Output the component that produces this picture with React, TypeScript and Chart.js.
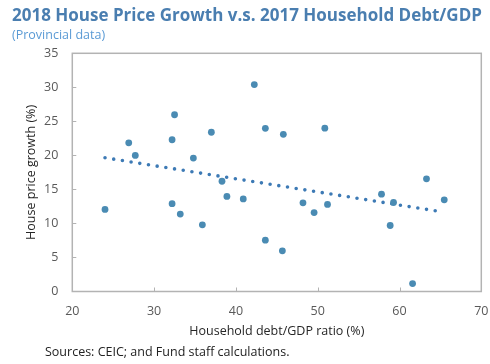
import React, { useEffect, useRef } from "react";
import { Chart, registerables } from "chart.js";

Chart.register(...registerables);

const debtRatio = [24.0, 26.9, 27.7, 32.5, 32.2, 32.2, 33.2, 34.8, 37.0, 35.9, 38.3, 38.9, 40.9, 42.25, 43.6, 43.6, 45.8, 50.87, 45.68, 48.2, 49.56, 51.2, 57.8, 59.27, 58.86, 63.3, 65.47, 61.6];
const priceGrowth = [12.06, 21.85, 20.0, 25.97, 22.3, 12.9, 11.37, 19.6, 23.4, 9.8, 16.2, 13.97, 13.6, 30.4, 23.97, 7.54, 23.1, 24.0, 5.97, 13.03, 11.6, 12.8, 14.3, 13.08, 9.7, 16.56, 13.47, 1.17];
const trendX = [24.0, 64.9];
const trendY = [19.65, 11.76];
const xTicks = [20, 30, 40, 50, 60, 70];
const yTicks = [0, 5, 10, 15, 20, 25, 30, 35];

const titleText = "2018 House Price Growth v.s. 2017 Household Debt/GDP";
const subtitleText = "(Provincial data)";
const sourceText = "Sources: CEIC; and Fund staff calculations.";
const xTitle = "Household debt/GDP ratio (%)";
const yTitle = "House price growth (%)";

const FONT = '"Open Sans", "Noto Sans", sans-serif';

const framePlugin = {
  id: "frame",
  beforeDatasetsDraw(chart: any) {
    const { ctx, chartArea: a, scales } = chart;
    ctx.save();
    ctx.strokeStyle = "#b3b3b3";
    ctx.lineWidth = 1.5;
    ctx.strokeRect(a.left, a.top, a.right - a.left, a.bottom - a.top);
    ctx.lineWidth = 1;
    ctx.beginPath();
    xTicks.slice(1, -1).forEach((v) => {
      const x = Math.round(scales.x.getPixelForValue(v)) + 0.5;
      ctx.moveTo(x, a.bottom);
      ctx.lineTo(x, a.bottom - 4);
    });
    yTicks.slice(1, -1).forEach((v) => {
      const y = Math.round(scales.y.getPixelForValue(v)) + 0.5;
      ctx.moveTo(a.left, y);
      ctx.lineTo(a.left + 4, y);
    });
    ctx.stroke();
    ctx.restore();
  },
  afterDraw(chart: any) {
    const { ctx } = chart;
    ctx.save();
    ctx.textAlign = "left";
    ctx.textBaseline = "alphabetic";
    ctx.fillStyle = "#4a7eb0";
    ctx.font = `bold 17px ${FONT}`;
    ctx.fillText(titleText, 12, 21);
    ctx.fillStyle = "#5b9bd5";
    ctx.font = `12.5px ${FONT}`;
    ctx.fillText(subtitleText, 12, 39);
    ctx.fillStyle = "#222222";
    ctx.font = `12.5px ${FONT}`;
    ctx.fillText(sourceText, 45, 356);
    ctx.restore();
  },
};

export default function App() {
  const ref = useRef<HTMLCanvasElement | null>(null);
  useEffect(() => {
    if (!ref.current) return;
    const chart = new Chart(ref.current, {
      type: "scatter",
      data: {
        datasets: [
          {
            type: "scatter",
            data: debtRatio.map((x, i) => ({ x, y: priceGrowth[i] })),
            backgroundColor: "#4a8bb3",
            borderWidth: 0,
            pointRadius: 3.4,
          },
          {
            type: "line",
            data: trendX.map((x, i) => ({ x, y: trendY[i] })),
            borderColor: "#3d7ab5",
            borderWidth: 3.6,
            borderDash: [0, 8.8],
            borderCapStyle: "round",
            pointRadius: 0,
            fill: false,
          },
        ],
      } as any,
      options: {
        responsive: false,
        animation: false,
        layout: { padding: { top: 53.3, left: 0, right: 8.7, bottom: 22.5 } },
        plugins: { legend: { display: false }, tooltip: { enabled: false } },
        scales: {
          x: {
            type: "linear",
            min: 20,
            max: 70,
            afterBuildTicks: (s: any) => { s.ticks = xTicks.map((v) => ({ value: v })); },
            grid: { display: false, drawTicks: false },
            border: { display: false },
            ticks: { color: "#595959", font: { family: FONT, size: 12.5 }, padding: 12 },
            title: { display: true, text: xTitle, color: "#262626", font: { family: FONT, size: 12.5 }, padding: { top: 0, bottom: 2.6 } },
            afterFit: (s: any) => { s.height = 50; s.paddingLeft = 0; s.paddingRight = 0; },
          },
          y: {
            type: "linear",
            min: 0,
            max: 35,
            afterBuildTicks: (s: any) => { s.ticks = yTicks.map((v) => ({ value: v })); },
            grid: { display: false, drawTicks: false },
            border: { display: false },
            ticks: { color: "#595959", font: { family: FONT, size: 12.5 }, padding: 14 },
            title: { display: true, text: yTitle, color: "#262626", font: { family: FONT, size: 12.5 }, padding: { top: 24, bottom: 0 } },
            afterFit: (s: any) => { s.width = 72.3; s.paddingTop = 0; s.paddingBottom = 0; },
          },
        },
      } as any,
      plugins: [framePlugin],
    });
    return () => chart.destroy();
  }, []);
  return (
    <div style={{ position: "fixed", left: 0, top: 0, width: 490, height: 364, background: "#fff" }}>
      <canvas ref={ref} width={490} height={364} style={{ width: 490, height: 364 }} />
    </div>
  );
}
